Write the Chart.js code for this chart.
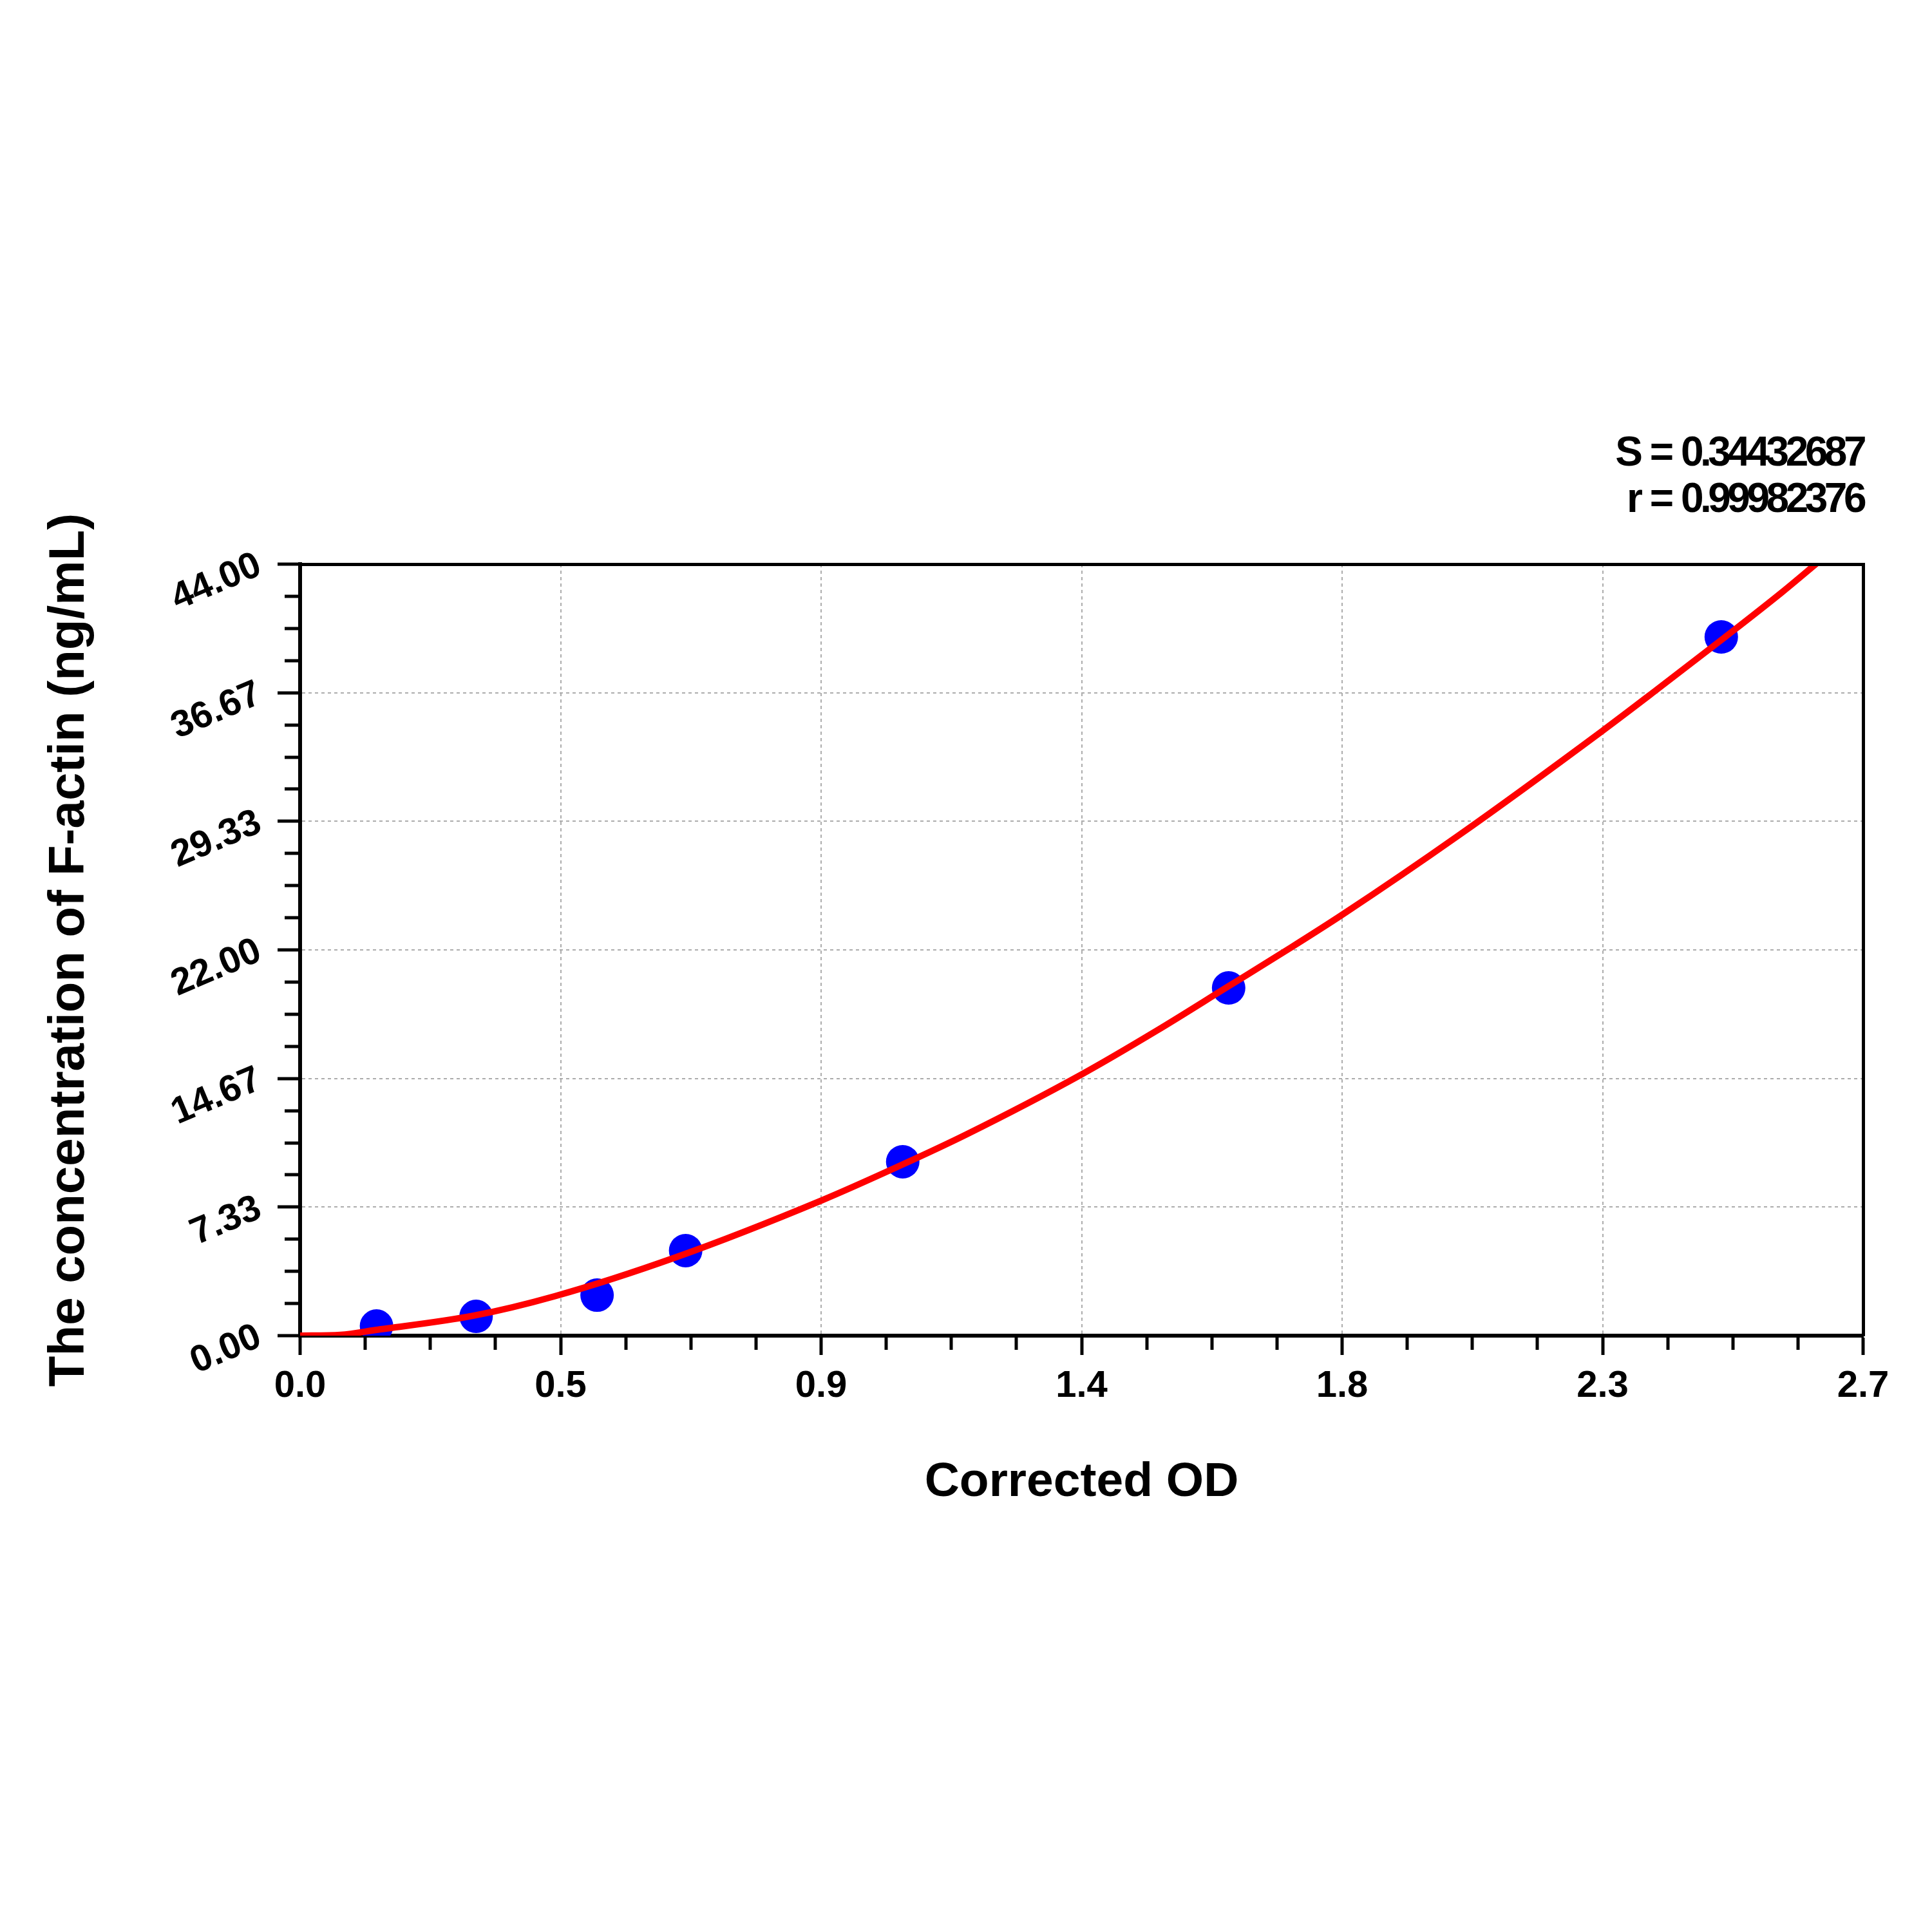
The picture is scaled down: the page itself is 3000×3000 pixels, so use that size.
<!DOCTYPE html>
<html>
<head>
<meta charset="utf-8">
<title>F-actin standard curve</title>
<script src="https://cdn.jsdelivr.net/npm/chart.js@4.4.1/dist/chart.umd.min.js"></script>
<style>
  html, body { margin: 0; padding: 0; background: #fff; }
  #wrap { width: 3000px; height: 3000px; }
</style>
</head>
<body>
<div id="wrap"><canvas id="curveChart" width="3000" height="3000"></canvas></div>
<script>
// Standard points (corrected OD vs concentration)
const odValues = [0.132, 0.304, 0.513, 0.666, 1.041, 1.604, 2.455];
const concValues = [0.55, 1.10, 2.31, 4.85, 9.92, 19.83, 39.85];

// Fitted curve, sampled along the red line
const fitX = [0, 0.07, 0.13, 0.30, 0.44, 0.65, 0.90, 1.04, 1.15, 1.35, 1.48, 1.60, 1.71, 1.80, 2.00, 2.25, 2.34, 2.46, 2.56, 2.62];
const fitY = [0, 0.05, 0.32, 1.14, 2.25, 4.48, 7.70, 9.75, 11.46, 14.90, 17.40, 19.85, 22.10, 24.00, 28.50, 34.50, 36.75, 39.80, 42.40, 44.05];

// Axis ticks
const xMajorTicks = [0, 0.45, 0.9, 1.35, 1.8, 2.25, 2.7];
const xTickLabels = ['0.0', '0.5', '0.9', '1.4', '1.8', '2.3', '2.7'];
const yMajorTicks = [0, 7.333333, 14.666667, 22, 29.333333, 36.666667, 44];
const yTickLabels = ['0.00', '7.33', '14.67', '22.00', '29.33', '36.67', '44.00'];

const fitStats = ['S = 0.34432687', 'r = 0.99982376'];

const MINOR_STEPS = 4;

// majors with 3 minor ticks between each pair
function withMinors(majors) {
    const out = [];
    for (let i = 0; i < majors.length - 1; i++) {
        const step = (majors[i + 1] - majors[i]) / MINOR_STEPS;
        for (let k = 0; k < MINOR_STEPS; k++) out.push(majors[i] + k * step);
    }
    out.push(majors[majors.length - 1]);
    return out;
}
const xTicks = withMinors(xMajorTicks);
const yTicks = withMinors(yMajorTicks);

const isMajor = (i) => i % MINOR_STEPS === 0;
const gridColor = (n) => (ctx) =>
    (isMajor(ctx.index) && ctx.index > 0 && ctx.index < n - 1) ? '#acacac' : 'rgba(0,0,0,0)';

// the fit statistics are set in a tight, condensed way
// (the top axis layers are drawn after the datasets, so only they get it)
const condensedStats = {
    id: 'condensedStats',
    afterDatasetsDraw(chart) {
        chart.ctx.letterSpacing = '-5.5px';
        chart.ctx.wordSpacing = '4px';
    },
    afterDraw(chart) {
        chart.ctx.letterSpacing = '0px';
        chart.ctx.wordSpacing = '0px';
    }
};

Chart.defaults.font.family = "'Liberation Sans', Arial, sans-serif";
Chart.defaults.font.weight = 'bold';
Chart.defaults.color = '#000';

const ctx = document.getElementById('curveChart').getContext('2d');
new Chart(ctx, {
    type: 'scatter',
    data: {
        datasets: [{
            label: 'Fit',
            data: fitX.map((x, i) => ({ x: x, y: fitY[i] })),
            showLine: true,
            borderColor: '#ff0000',
            borderWidth: 10,
            borderCapStyle: 'round',
            borderJoinStyle: 'round',
            cubicInterpolationMode: 'monotone',
            pointRadius: 0,
            order: 0
        }, {
            label: 'Standards',
            data: odValues.map((x, i) => ({ x: x, y: concValues[i] })),
            backgroundColor: '#0000ff',
            borderColor: '#0000ff',
            borderWidth: 0,
            pointRadius: 26,
            order: 1
        }]
    },
    plugins: [condensedStats],
    options: {
        responsive: false,
        devicePixelRatio: 1,
        animation: false,
        layout: {
            padding: { left: 0, right: 107, top: 600, bottom: 600 }
        },
        plugins: {
            legend: { display: false },
            tooltip: { enabled: false }
        },
        scales: {
            x: {
                type: 'linear',
                position: 'bottom',
                min: 0,
                max: 2.7,
                afterBuildTicks: (scale) => { scale.ticks = xTicks.map(v => ({ value: v })); },
                afterFit: (scale) => { scale.height = 326; },
                ticks: {
                    autoSkip: false,
                    maxRotation: 0,
                    minRotation: 0,
                    padding: 14,
                    font: { size: 58 },
                    callback: (value, index) => isMajor(index) ? xTickLabels[index / MINOR_STEPS] : ''
                },
                grid: {
                    color: gridColor(xTicks.length),
                    lineWidth: 2,
                    tickLength: 30,
                    tickWidth: 5,
                    tickColor: '#000',
                    tickBorderDash: (c) => isMajor(c.index) ? [] : [19, 1000]
                },
                border: { display: true, color: '#000', width: 6, dash: [5, 5] },
                title: {
                    display: true,
                    text: 'Corrected OD',
                    font: { size: 75 },
                    padding: { top: 0, bottom: 53 }
                }
            },
            y: {
                type: 'linear',
                position: 'left',
                min: 0,
                max: 44,
                afterBuildTicks: (scale) => { scale.ticks = yTicks.map(v => ({ value: v })); },
                afterFit: (scale) => { scale.width = 466; },
                ticks: {
                    autoSkip: false,
                    minRotation: 23,
                    maxRotation: 23,
                    padding: 28,
                    font: { size: 58 },
                    callback: (value, index) => isMajor(index) ? yTickLabels[index / MINOR_STEPS] : ''
                },
                grid: {
                    color: gridColor(yTicks.length),
                    lineWidth: 2,
                    tickLength: 35,
                    tickWidth: 5,
                    tickColor: '#000',
                    tickBorderDash: (c) => isMajor(c.index) ? [] : [0, 11, 1000, 0]
                },
                border: { display: true, color: '#000', width: 6, dash: [5, 5] },
                title: {
                    display: true,
                    text: 'The concentration of F-actin (ng/mL)',
                    font: { size: 78 },
                    padding: { top: 62, bottom: 0 }
                }
            },
            xTop: {
                type: 'linear',
                position: 'top',
                min: 0,
                max: 2.7,
                afterFit: (scale) => { scale.height = 276; },
                ticks: { display: false, z: 2 },
                grid: { display: false, drawTicks: false, z: 2 },
                border: { display: true, color: '#000', width: 5, z: 2 },
                title: {
                    display: true,
                    text: fitStats,
                    align: 'end',
                    font: { size: 64, lineHeight: '72px' },
                    padding: { top: 69, bottom: 0 }
                }
            },
            yRight: {
                type: 'linear',
                position: 'right',
                min: 0,
                max: 44,
                afterFit: (scale) => { scale.width = 0; },
                ticks: { display: false },
                grid: { display: false, drawTicks: false },
                border: { display: true, color: '#000', width: 5 }
            }
        }
    }
});
</script>
</body>
</html>
